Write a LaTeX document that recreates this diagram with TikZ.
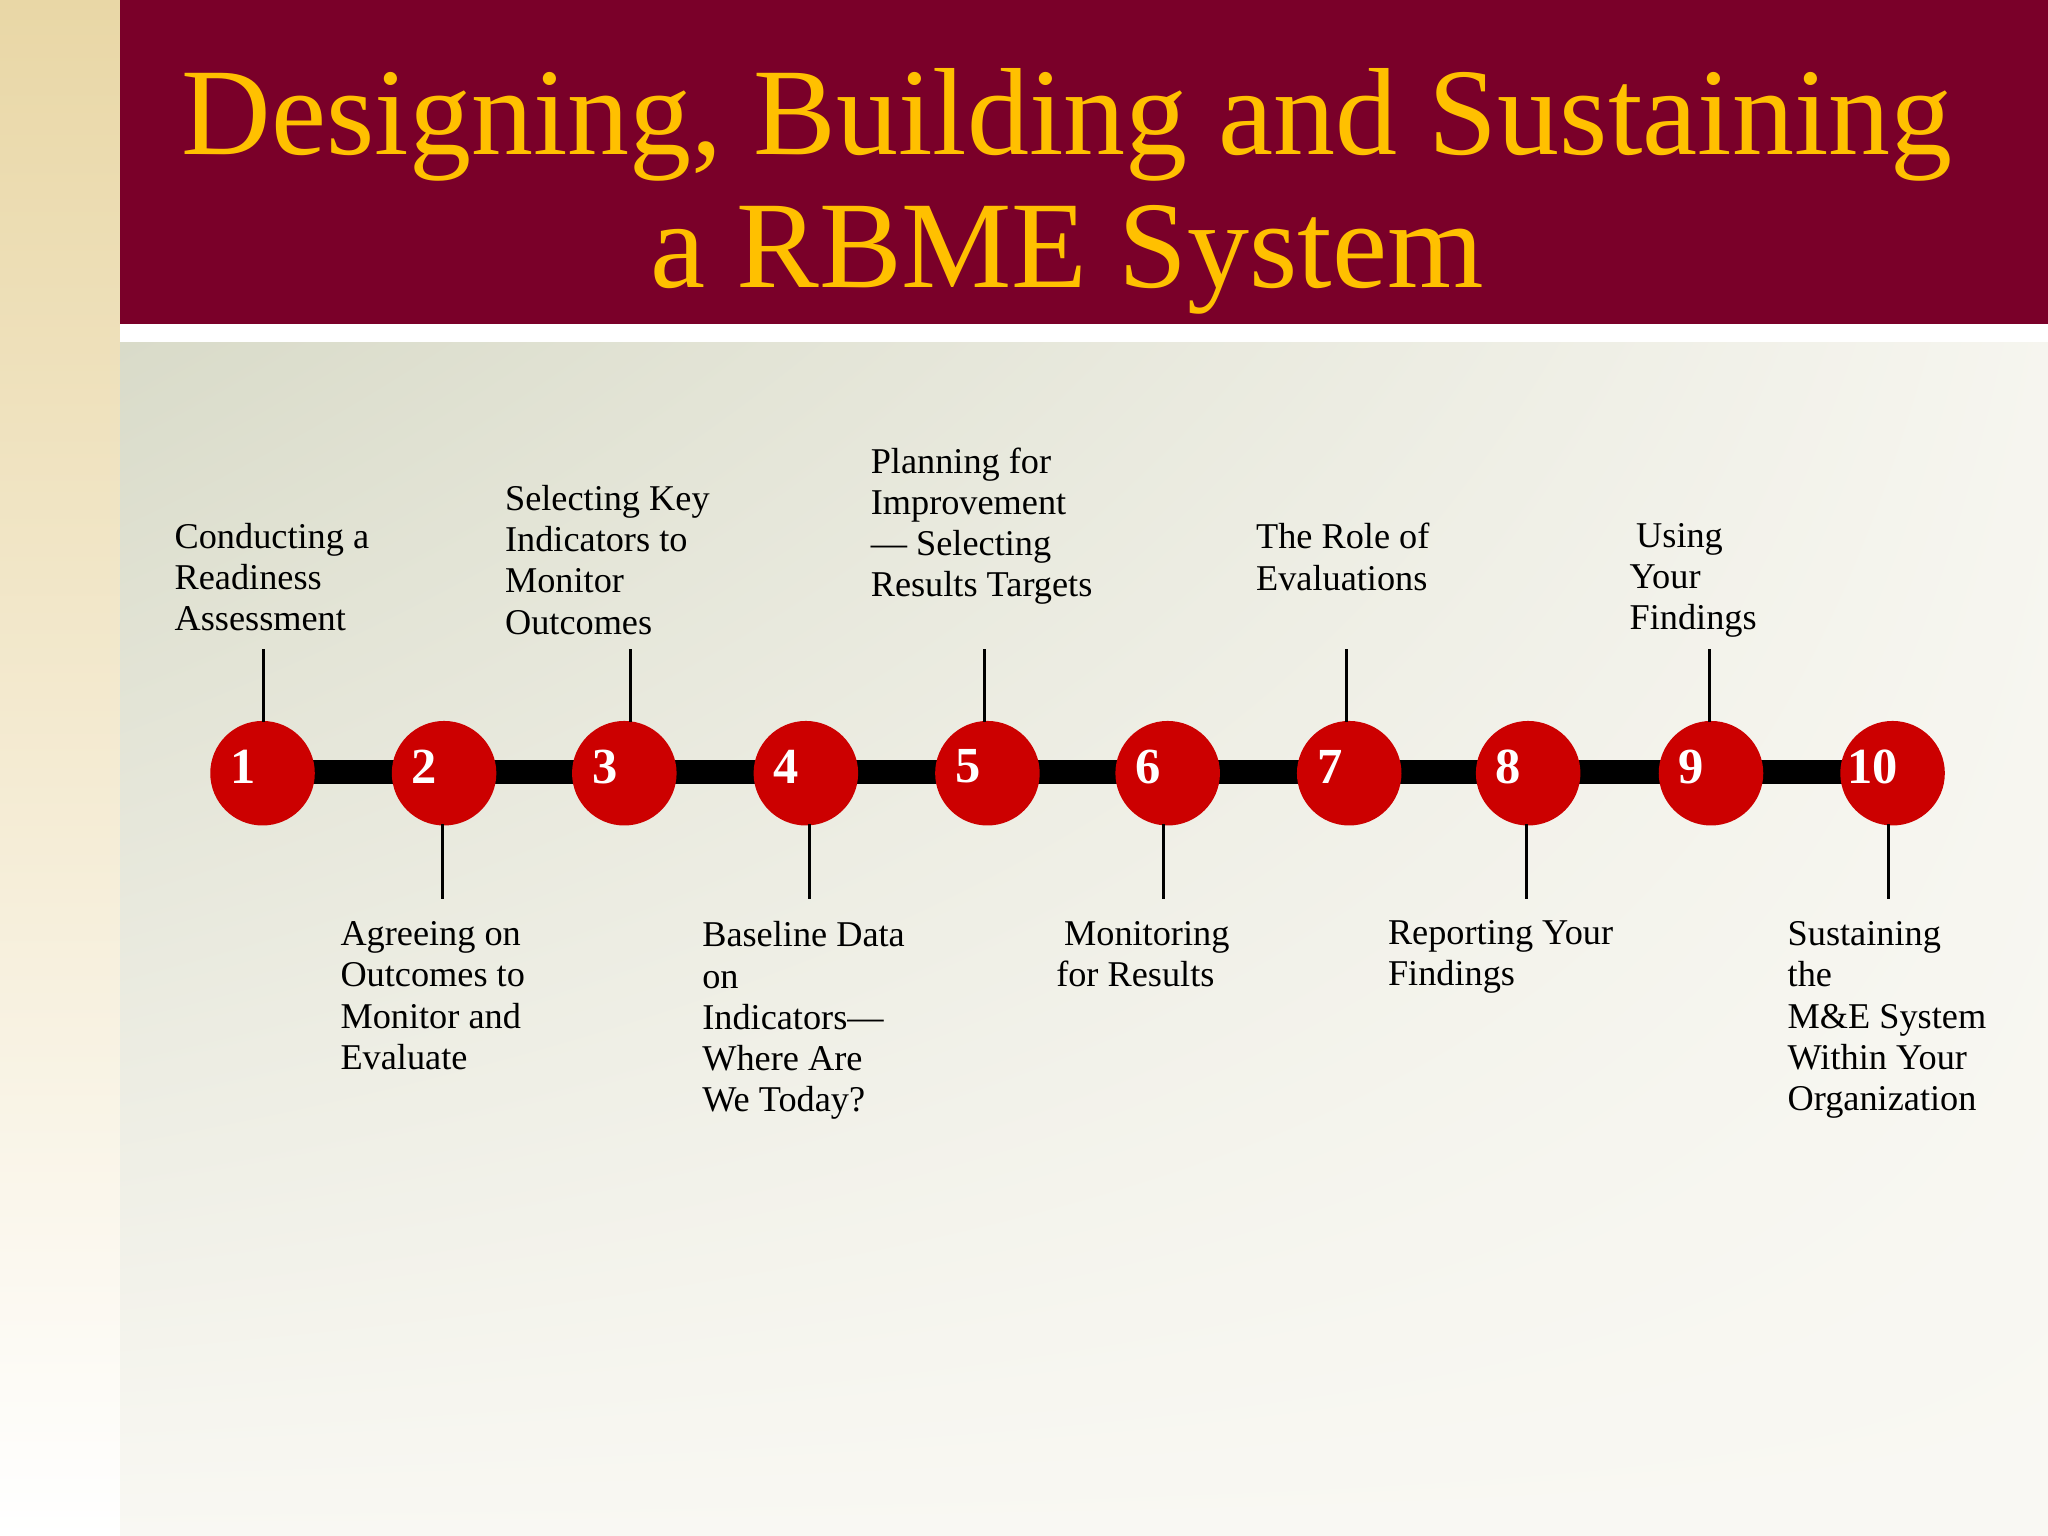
\documentclass[tikz,border=0pt]{standalone}
\usepackage{fontspec}
\setmainfont{Liberation Serif}
\usetikzlibrary{shadings}
\definecolor{bar}{HTML}{7A0029}
\definecolor{gold}{HTML}{FFC000}
\definecolor{dot}{HTML}{CC0000}
\definecolor{tanA}{HTML}{E9D7A6}
\definecolor{bgA}{HTML}{D9DBC9}
\definecolor{bgB}{HTML}{F9F8F3}
\tikzset{
 dotc/.style={circle,fill=dot,minimum size=0.8cm,inner sep=0},
 num/.style={text=white,font=\bfseries\fontsize{11}{12}\selectfont},
 lab/.style={anchor=north west,inner sep=0,align=left,font=\fontsize{7.9}{8.96}\selectfont},
 stem/.style={line width=0.6pt}
}
\begin{document}
\begin{tikzpicture}[x=0.01cm,y=-0.01cm]
\useasboundingbox (0,0) rectangle (1568,1176);
\shade[top color=tanA,bottom color=white] (0,0) rectangle (92,1176);
\shade[upper left=bgA,lower right=bgB,upper right=bgB!90!bgA,lower left=bgB] (92,262) rectangle (1568,1176);
\fill[white] (92,248) rectangle (1568,262);
\fill[bar] (92,0) rectangle (1568,248);
\node[text=gold,font=\fontsize{27}{30}\selectfont,anchor=base] (t1) at (817,118) {Designing, Building and Sustaining};
\node[text=gold,font=\fontsize{27}{30}\selectfont,anchor=base] (t2) at (817,220) {a RBME System};
\draw[line width=18*0.2845pt] (201,591) -- (1449,591);
\foreach \i/\x in {1/201,2/340,3/478,4/617,5/756,6/894,7/1033,8/1170,9/1310,10/1449}{
  \node[dotc] (c\i) at (\x,592) {};
  \node[num] (n\i) at (\x-15,587) {\i};
}
\foreach \i/\sx in {1/202,3/483,5/754,7/1031,9/1309}{
  \coordinate (s\i) at (\sx,497);
  \draw[stem] (s\i) -- (\sx,553);
}
\foreach \i/\sx in {2/339,4/620,6/891,8/1169,10/1446}{
  \coordinate (s\i) at (\sx,688);
  \draw[stem] (s\i) -- (\sx,631);
}
\node[lab] (l1) at (133,400) {Conducting a\\Readiness\\Assessment};
\node[lab] (l3) at (386,371) {Selecting Key\\Indicators to\\Monitor\\Outcomes};
\node[lab] (l5) at (666,342) {Planning for\\Improvement\\— Selecting\\Results Targets};
\node[lab] (l7) at (961,400) {The Role of\\Evaluations};
\node[lab] (l9) at (1247,400) {\hspace{0.05cm}Using\\Your\\Findings};
\node[lab] (l2) at (260,705) {Agreeing on\\Outcomes to\\Monitor and\\Evaluate};
\node[lab] (l4) at (537,705) {Baseline Data\\on\\Indicators—\\Where Are\\We Today?};
\node[lab] (l6) at (808,705) {\hspace{0.06cm}Monitoring\\for Results};
\node[lab] (l8) at (1062,704) {Reporting Your\\Findings};
\node[lab] (l10) at (1368,705) {Sustaining\\the\\M\&E System\\Within Your\\Organization};
\end{tikzpicture}
\end{document}
